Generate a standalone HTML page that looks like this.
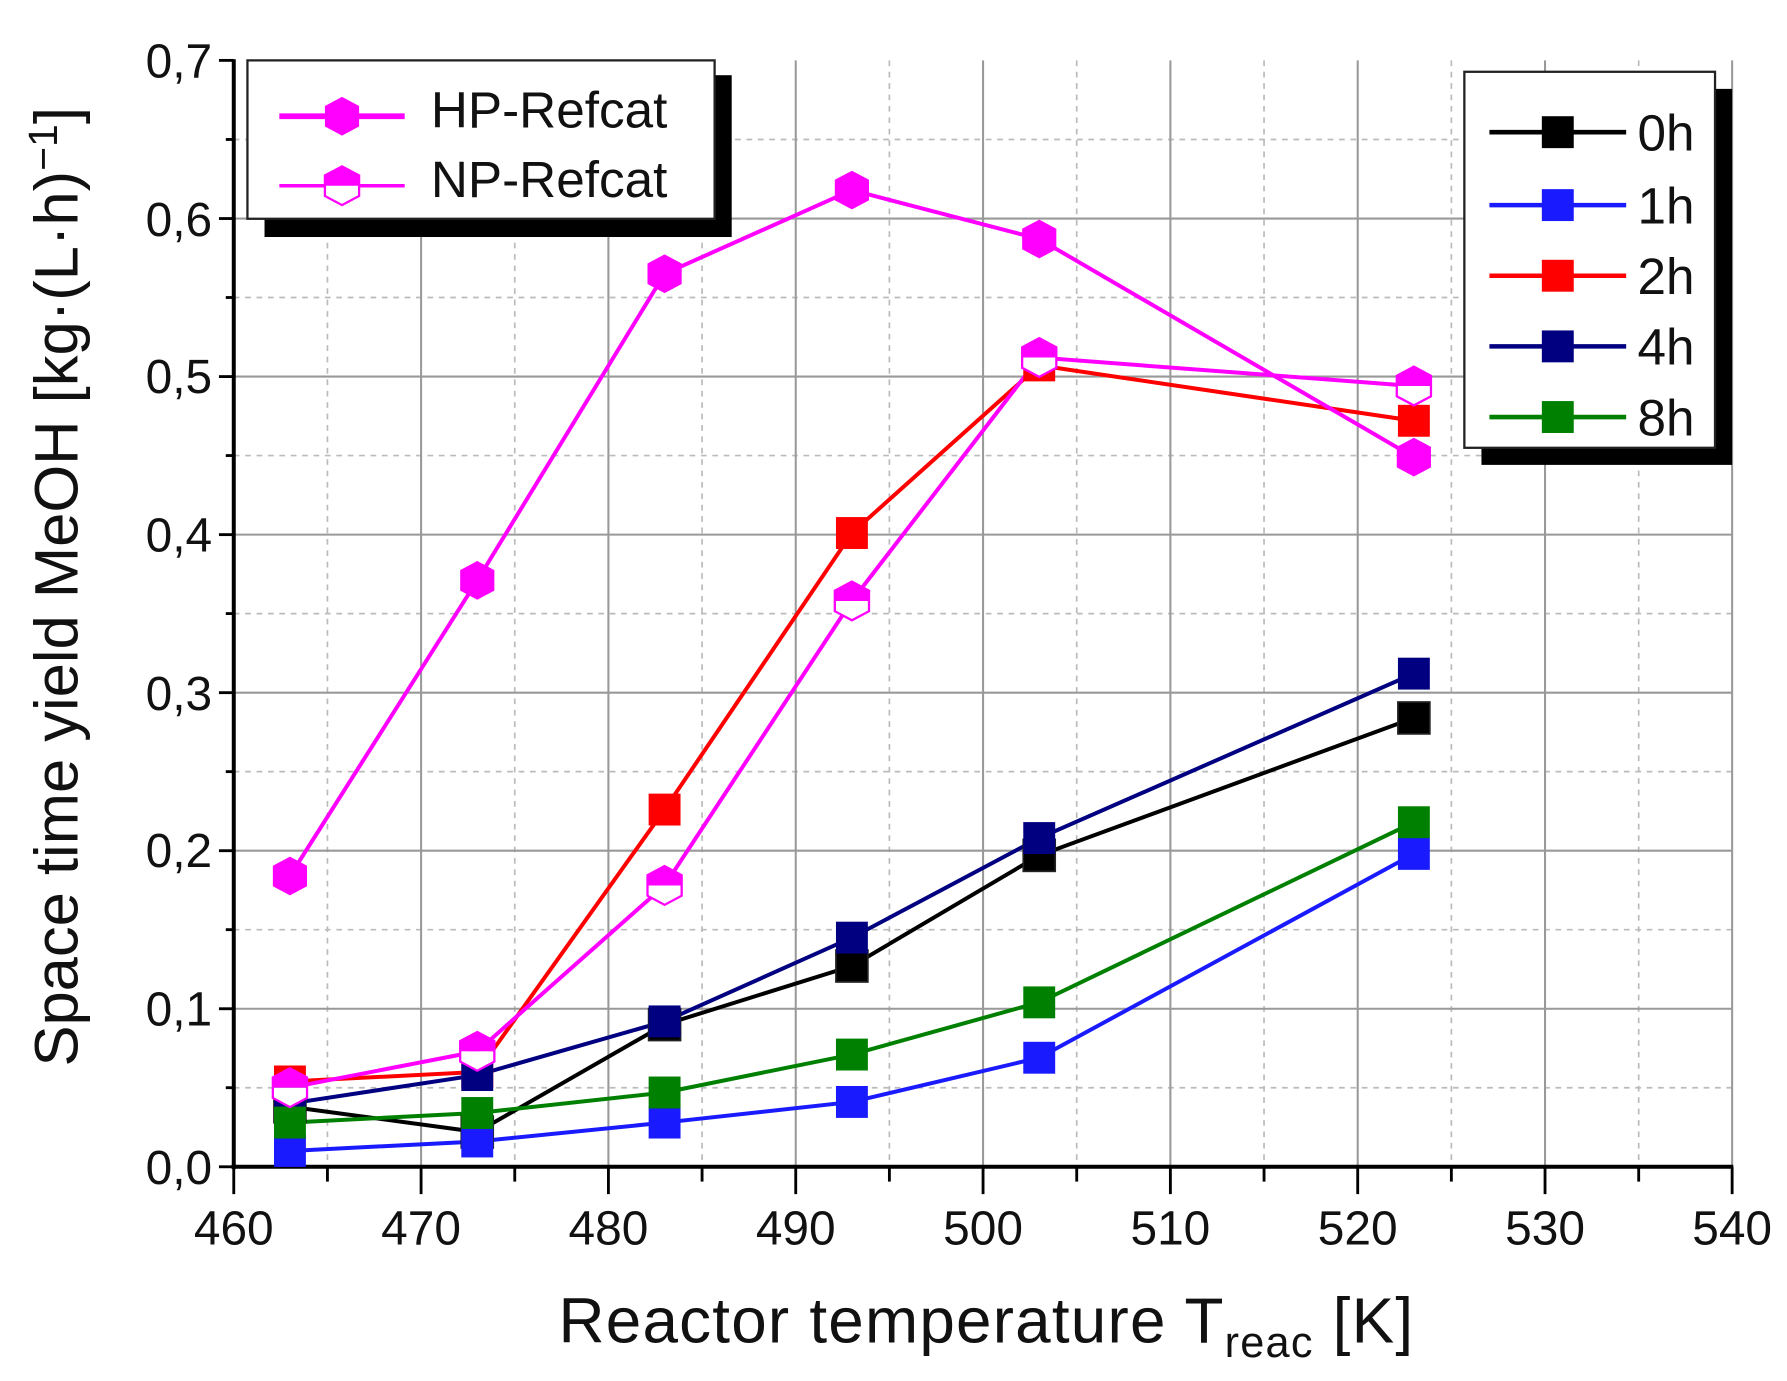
<!DOCTYPE html>
<html><head><meta charset="utf-8"><style>html,body{margin:0;padding:0;background:#fff}svg{display:block}</style></head><body>
<svg width="1787" height="1381" viewBox="0 0 1568 1212" xmlns="http://www.w3.org/2000/svg" font-family="Liberation Sans, sans-serif">
<defs>
<rect id="sq" x="-14" y="-14" width="28" height="28"/>
<path id="hx" d="M0,-17 L15,-9 L15,9 L0,17 L-15,9 L-15,-9 Z"/>
<g id="np"><path d="M0,-17 L15,-9 L15,0 L-15,0 L-15,-9 Z" fill="#ff00ff"/><path d="M-15,0 L15,0 L15,9 L0,17 L-15,9 Z" fill="#fff"/><path d="M0,-17 L15,-9 L15,9 L0,17 L-15,9 L-15,-9 Z" fill="none" stroke="#ff00ff" stroke-width="2"/></g>
</defs>
<g stroke="#bbb" stroke-width="1.5" stroke-dasharray="5,5">
<line x1="287.2" y1="53" x2="287.2" y2="1024"/><line x1="451.6" y1="53" x2="451.6" y2="1024"/><line x1="616" y1="53" x2="616" y2="1024"/><line x1="780.4" y1="53" x2="780.4" y2="1024"/><line x1="944.8" y1="53" x2="944.8" y2="1024"/><line x1="1109.2" y1="53" x2="1109.2" y2="1024"/><line x1="1273.6" y1="53" x2="1273.6" y2="1024"/><line x1="1438" y1="53" x2="1438" y2="1024"/>
<line x1="205" y1="954.6" x2="1520" y2="954.6"/><line x1="205" y1="815.9" x2="1520" y2="815.9"/><line x1="205" y1="677.2" x2="1520" y2="677.2"/><line x1="205" y1="538.5" x2="1520" y2="538.5"/><line x1="205" y1="399.8" x2="1520" y2="399.8"/><line x1="205" y1="261.1" x2="1520" y2="261.1"/><line x1="205" y1="122.4" x2="1520" y2="122.4"/>
</g>
<g stroke="#999" stroke-width="1.8">
<line x1="369.4" y1="53" x2="369.4" y2="1024"/><line x1="533.8" y1="53" x2="533.8" y2="1024"/><line x1="698.2" y1="53" x2="698.2" y2="1024"/><line x1="862.6" y1="53" x2="862.6" y2="1024"/><line x1="1027" y1="53" x2="1027" y2="1024"/><line x1="1191.4" y1="53" x2="1191.4" y2="1024"/><line x1="1355.8" y1="53" x2="1355.8" y2="1024"/><line x1="1520" y1="53" x2="1520" y2="1024"/>
<line x1="205" y1="885.3" x2="1520" y2="885.3"/><line x1="205" y1="746.6" x2="1520" y2="746.6"/><line x1="205" y1="607.9" x2="1520" y2="607.9"/><line x1="205" y1="469.2" x2="1520" y2="469.2"/><line x1="205" y1="330.5" x2="1520" y2="330.5"/><line x1="205" y1="191.8" x2="1520" y2="191.8"/>
</g>
<g stroke="#000" stroke-width="3.5" fill="none">
<line x1="205" y1="52" x2="205" y2="1026"/><line x1="203" y1="1024" x2="1521" y2="1024"/>
</g>
<g stroke="#000" stroke-width="2.5">
<line x1="205" y1="1024" x2="205" y2="1048"/><line x1="369.4" y1="1024" x2="369.4" y2="1048"/><line x1="533.8" y1="1024" x2="533.8" y2="1048"/><line x1="698.2" y1="1024" x2="698.2" y2="1048"/><line x1="862.6" y1="1024" x2="862.6" y2="1048"/><line x1="1027" y1="1024" x2="1027" y2="1048"/><line x1="1191.4" y1="1024" x2="1191.4" y2="1048"/><line x1="1355.8" y1="1024" x2="1355.8" y2="1048"/><line x1="1520" y1="1024" x2="1520" y2="1048"/>
<line x1="287.2" y1="1024" x2="287.2" y2="1037"/><line x1="451.6" y1="1024" x2="451.6" y2="1037"/><line x1="616" y1="1024" x2="616" y2="1037"/><line x1="780.4" y1="1024" x2="780.4" y2="1037"/><line x1="944.8" y1="1024" x2="944.8" y2="1037"/><line x1="1109.2" y1="1024" x2="1109.2" y2="1037"/><line x1="1273.6" y1="1024" x2="1273.6" y2="1037"/><line x1="1438" y1="1024" x2="1438" y2="1037"/>
<line x1="205" y1="1024" x2="192" y2="1024"/><line x1="205" y1="885.3" x2="192" y2="885.3"/><line x1="205" y1="746.6" x2="192" y2="746.6"/><line x1="205" y1="607.9" x2="192" y2="607.9"/><line x1="205" y1="469.2" x2="192" y2="469.2"/><line x1="205" y1="330.5" x2="192" y2="330.5"/><line x1="205" y1="191.8" x2="192" y2="191.8"/><line x1="205" y1="53" x2="192" y2="53"/>
<line x1="205" y1="954.6" x2="198" y2="954.6"/><line x1="205" y1="815.9" x2="198" y2="815.9"/><line x1="205" y1="677.2" x2="198" y2="677.2"/><line x1="205" y1="538.5" x2="198" y2="538.5"/><line x1="205" y1="399.8" x2="198" y2="399.8"/><line x1="205" y1="261.1" x2="198" y2="261.1"/><line x1="205" y1="122.4" x2="198" y2="122.4"/>
</g>
<g font-size="42" fill="#111" text-anchor="middle">
<text x="205" y="1092">460</text><text x="369.4" y="1092">470</text><text x="533.8" y="1092">480</text><text x="698.2" y="1092">490</text><text x="862.6" y="1092">500</text><text x="1027" y="1092">510</text><text x="1191.4" y="1092">520</text><text x="1355.8" y="1092">530</text><text x="1520" y="1092">540</text>
</g>
<g font-size="42" fill="#111" text-anchor="end">
<text x="186" y="1039">0,0</text><text x="186" y="900">0,1</text><text x="186" y="761">0,2</text><text x="186" y="623">0,3</text><text x="186" y="484">0,4</text><text x="186" y="345">0,5</text><text x="186" y="207">0,6</text><text x="186" y="68">0,7</text>
</g>
<text x="865" y="1178" font-size="56" text-anchor="middle" fill="#111" textLength="750">Reactor temperature T<tspan font-size="38" dy="13">reac</tspan><tspan dy="-13"> [K]</tspan></text>
<text transform="translate(68,515) rotate(-90)" font-size="54" text-anchor="middle" fill="#111">Space time yield MeOH [kg·(L·h)<tspan font-size="36" dy="-18">−1</tspan><tspan dy="18">]</tspan></text>
<g fill="none" stroke-width="3.5">
<polyline stroke="#000" points="254.3,971.3 418.7,993.5 583.1,899.2 747.5,847.8 911.9,750.7 1240.7,630.1"/>
<polyline stroke="#1a1aff" points="254.3,1010.1 418.7,1001.8 583.1,985.2 747.5,967.1 911.9,928.3 1240.7,749.4"/>
<polyline stroke="#ff0000" points="254.3,949.1 418.7,940.8 583.1,710.5 747.5,467.8 911.9,320.7 1240.7,369.3"/>
<polyline stroke="#000080" points="254.3,968.5 418.7,943.5 583.1,896.4 747.5,822.9 911.9,735.5 1240.7,591.2"/>
<polyline stroke="#008000" points="254.3,985.2 418.7,976.8 583.1,958.8 747.5,925.5 911.9,879.7 1240.7,721.6"/>
<polyline stroke="#ff00ff" points="254.3,768.8 418.7,509.4 583.1,240.3 747.5,166.8 911.9,209.8 1240.7,401.2"/>
<polyline stroke="#ff00ff" points="254.3,954.6 418.7,922.7 583.1,777.1 747.5,527.4 911.9,313.8 1240.7,338.8"/>
</g>
<g fill="#000" stroke="#222" stroke-width="1.5"><use href="#sq" x="254.3" y="971.3"/><use href="#sq" x="418.7" y="993.5"/><use href="#sq" x="583.1" y="899.2"/><use href="#sq" x="747.5" y="847.8"/><use href="#sq" x="911.9" y="750.7"/><use href="#sq" x="1240.7" y="630.1"/></g>
<g fill="#1a1aff"><use href="#sq" x="254.3" y="1010.1"/><use href="#sq" x="418.7" y="1001.8"/><use href="#sq" x="583.1" y="985.2"/><use href="#sq" x="747.5" y="967.1"/><use href="#sq" x="911.9" y="928.3"/><use href="#sq" x="1240.7" y="749.4"/></g>
<g fill="#ff0000"><use href="#sq" x="254.3" y="949.1"/><use href="#sq" x="418.7" y="940.8"/><use href="#sq" x="583.1" y="710.5"/><use href="#sq" x="747.5" y="467.8"/><use href="#sq" x="911.9" y="320.7"/><use href="#sq" x="1240.7" y="369.3"/></g>
<g fill="#000080"><use href="#sq" x="254.3" y="968.5"/><use href="#sq" x="418.7" y="943.5"/><use href="#sq" x="583.1" y="896.4"/><use href="#sq" x="747.5" y="822.9"/><use href="#sq" x="911.9" y="735.5"/><use href="#sq" x="1240.7" y="591.2"/></g>
<g fill="#008000"><use href="#sq" x="254.3" y="985.2"/><use href="#sq" x="418.7" y="976.8"/><use href="#sq" x="583.1" y="958.8"/><use href="#sq" x="747.5" y="925.5"/><use href="#sq" x="911.9" y="879.7"/><use href="#sq" x="1240.7" y="721.6"/></g>
<g fill="#ff00ff"><use href="#hx" x="254.3" y="768.8"/><use href="#hx" x="418.7" y="509.4"/><use href="#hx" x="583.1" y="240.3"/><use href="#hx" x="747.5" y="166.8"/><use href="#hx" x="911.9" y="209.8"/><use href="#hx" x="1240.7" y="401.2"/></g>
<g><use href="#np" x="254.3" y="954.6"/><use href="#np" x="418.7" y="922.7"/><use href="#np" x="583.1" y="777.1"/><use href="#np" x="747.5" y="527.4"/><use href="#np" x="911.9" y="313.8"/><use href="#np" x="1240.7" y="338.8"/></g>
<rect x="232" y="66" width="410" height="142" fill="#000"/>
<rect x="217" y="53" width="410" height="139" fill="#fff" stroke="#222" stroke-width="2"/>
<line x1="245" y1="102" x2="355" y2="102" stroke="#ff00ff" stroke-width="5"/>
<use href="#hx" x="300" y="102" fill="#ff00ff"/>
<line x1="245" y1="163" x2="355" y2="163" stroke="#ff00ff" stroke-width="3"/>
<use href="#np" x="300" y="163"/>
<text x="378" y="112" font-size="45" fill="#111">HP-Refcat</text>
<text x="378" y="173" font-size="45" fill="#111">NP-Refcat</text>
<rect x="1300" y="78" width="220" height="330" fill="#000"/>
<rect x="1285" y="63" width="220" height="330" fill="#fff" stroke="#222" stroke-width="2"/>
<g stroke-width="4">
<line x1="1307" y1="116" x2="1427" y2="116" stroke="#000"/>
<line x1="1307" y1="180" x2="1427" y2="180" stroke="#1a1aff"/>
<line x1="1307" y1="242" x2="1427" y2="242" stroke="#ff0000"/>
<line x1="1307" y1="304" x2="1427" y2="304" stroke="#000080"/>
<line x1="1307" y1="366" x2="1427" y2="366" stroke="#008000"/>
</g>
<use href="#sq" x="1367" y="116" fill="#000"/>
<use href="#sq" x="1367" y="180" fill="#1a1aff"/>
<use href="#sq" x="1367" y="242" fill="#ff0000"/>
<use href="#sq" x="1367" y="304" fill="#000080"/>
<use href="#sq" x="1367" y="366" fill="#008000"/>
<g font-size="45" fill="#111">
<text x="1437" y="132">0h</text><text x="1437" y="196">1h</text><text x="1437" y="258">2h</text><text x="1437" y="320">4h</text><text x="1437" y="382">8h</text>
</g>
</svg>
</body></html>
